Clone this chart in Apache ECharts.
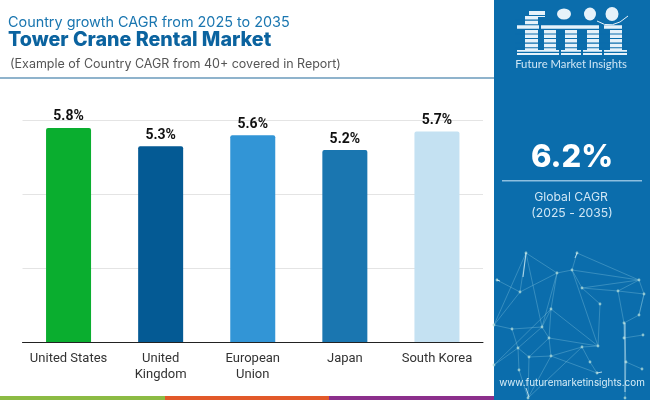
<!DOCTYPE html>
<html><head><meta charset="utf-8">
<style>html,body{margin:0;padding:0;background:#fff}#c{width:650px;height:400px}</style>
<script src="https://cdn.jsdelivr.net/npm/echarts@6/dist/echarts.min.js"></script></head>
<body><div id="c"></div>
<script>
const categories = ['United States','United\nKingdom','European\nUnion','Japan','South Korea'];
const values = [5.8,5.3,5.6,5.2,5.7];
const barColors = ['#0aae2f','#045a94','#3295d6','#1a76b0','#c4e1f2'];
const nodes = [[526,253],[577,253],[557,273],[572,270],[639,280],[497,280],[520,292],[582,288],[618,291],[644,294],[600,304],[551,309],[639,315],[624,323],[512,329],[542,327],[549,338],[582,347],[624,338],[643,335],[518,348],[529,357],[551,356],[598,346],[590,362],[626,362],[642,369],[519,370],[597,373],[528,398],[625,398],[494,325],[494,365]];
const edges = [[0,2],[0,6],[0,15],[0,31],[5,6],[2,3],[3,4],[2,6],[2,11],[2,15],[1,4],[1,3],[3,7],[3,23],[7,8],[7,10],[7,4],[8,4],[8,9],[4,9],[8,13],[9,12],[13,12],[12,9],[13,25],[18,19],[13,18],[11,15],[11,16],[11,23],[15,14],[15,16],[14,31],[16,21],[16,22],[16,23],[17,22],[17,23],[14,20],[20,21],[20,27],[21,29],[22,21],[22,29],[27,29],[15,20],[22,28],[17,24],[24,28],[17,29],[25,26],[25,30],[10,23],[32,20],[6,31],[11,32]];
const chart = echarts.init(document.getElementById('c'));
const PANEL = '#0b6dac', LOGO = '#e6f2fa';
const g = [];
g.push({type:'rect',shape:{x:0,y:77,width:494,height:2},style:{fill:'#8fb3cc'},silent:true});
g.push({type:'rect',shape:{x:0,y:396,width:165,height:4},style:{fill:'#8cbb44'}});
g.push({type:'rect',shape:{x:165,y:396,width:164,height:4},style:{fill:'#e2592a'}});
g.push({type:'rect',shape:{x:329,y:396,width:165,height:4},style:{fill:'#8c2f8c'}});
g.push({type:'rect',shape:{x:494,y:0,width:156,height:400},style:{fill:PANEL}});
edges.forEach(([a,b])=>g.push({type:'line',shape:{x1:nodes[a][0],y1:nodes[a][1],x2:nodes[b][0],y2:nodes[b][1]},style:{stroke:'rgba(150,210,230,0.45)',lineWidth:0.7}}));
nodes.forEach(n=>g.push({type:'circle',shape:{cx:n[0],cy:n[1],r:1.4},style:{fill:'rgba(170,215,215,0.8)'}}));
[[526,253,523,277],[577,253,575,258],[597,373,602,372],[526,388,529,397],[625,323,625,392],[497,280,500,281]].forEach(s=>g.push({type:'line',shape:{x1:s[0],y1:s[1],x2:s[2],y2:s[3]},style:{stroke:'rgba(225,245,250,0.75)',lineWidth:1}}));
const T=(x,y,text,font,fill,align)=>g.push({type:'text',x,y,style:{text,font,fill,textAlign:align||'left',textVerticalAlign:'middle'}});
T(8,23,'Country growth CAGR from 2025 to 2035','400 14.4px Inter, sans-serif','#1a76b0');
T(8,40,'Tower Crane Rental Market','800 19.7px Inter, sans-serif','#0b639f');
T(10,64,'(Example of Country CAGR from 40+ covered in Report)','400 12.5px Inter, sans-serif','#555555');
// logo: letters from blocks, cut by stripes
[[517,25,22,5],[525,16,13,39],[529,11,16,6],[517,50,25,5],
 [541,25,57,5],[544,25,12,30],[541,50,18,5],[565,25,12,30],[561,50,20,5],[587,25,12,30],[583,50,19,5],
 [604,25,17,5],[610,25,12,30],[604,50,23,5]].forEach(r=>g.push({type:'rect',shape:{x:r[0],y:r[1],width:r[2],height:r[3]},style:{fill:LOGO}}));
for(let y=15;y<=56;y+=4.6){g.push({type:'rect',shape:{x:515,y,width:114,height:1.1},style:{fill:PANEL}});}
[[564,14,7,5.5],[590,14,6,6.5],[612,14,6.5,7]].forEach(p=>g.push({type:'circle',x:p[0],y:p[1],scaleX:p[2]/p[3],shape:{cx:0,cy:0,r:p[3]},style:{fill:LOGO}}));
g.push({type:'bezierCurve',shape:{x1:597,y1:21,x2:628,y2:16,cpx1:612,cpy1:31},style:{stroke:LOGO,fill:'none',lineWidth:1}});
T(571,64,'Future Market Insights','400 11.3px Lato, sans-serif','#cfe6f5','center');
T(572,158,'6.2%','800 31px Inter, sans-serif','#ffffff','center');
g.push({type:'rect',shape:{x:502,y:180,width:140,height:1.5},style:{fill:'#8dbfe0'}});
T(571,197,'Global CAGR','400 12.2px Inter, sans-serif','#cfe6f5','center');
T(572,213,'(2025 - 2035)','400 12.2px Inter, sans-serif','#cfe6f5','center');
T(572,383,'www.futuremarketinsights.com','400 9.9px Inter, sans-serif','#d8eef8','center');
chart.setOption({
 animation:false,
 grid:{left:22.5,right:167,top:120.5,bottom:58,containLabel:false},
 xAxis:{type:'category',data:categories,axisTick:{show:false},
  axisLine:{lineStyle:{color:'#222',width:1}},
  axisLabel:{color:'#333',fontFamily:'Roboto',fontSize:13,lineHeight:16,margin:9,interval:0}},
 yAxis:{type:'value',min:0,max:6,interval:2,axisLabel:{show:false},axisLine:{show:false},axisTick:{show:false},
  splitLine:{lineStyle:{color:'#e4e4e4',width:1}}},
 series:[{type:'bar',barWidth:45,data:values.map((v,i)=>({value:v,itemStyle:{color:barColors[i],borderRadius:[2,2,0,0]}})),
  label:{show:true,position:'top',distance:4,formatter:p=>p.value.toFixed(1)+'%',color:'#111',fontFamily:'Roboto',fontWeight:700,fontSize:14}}],
 graphic:g
});
</script></body></html>
